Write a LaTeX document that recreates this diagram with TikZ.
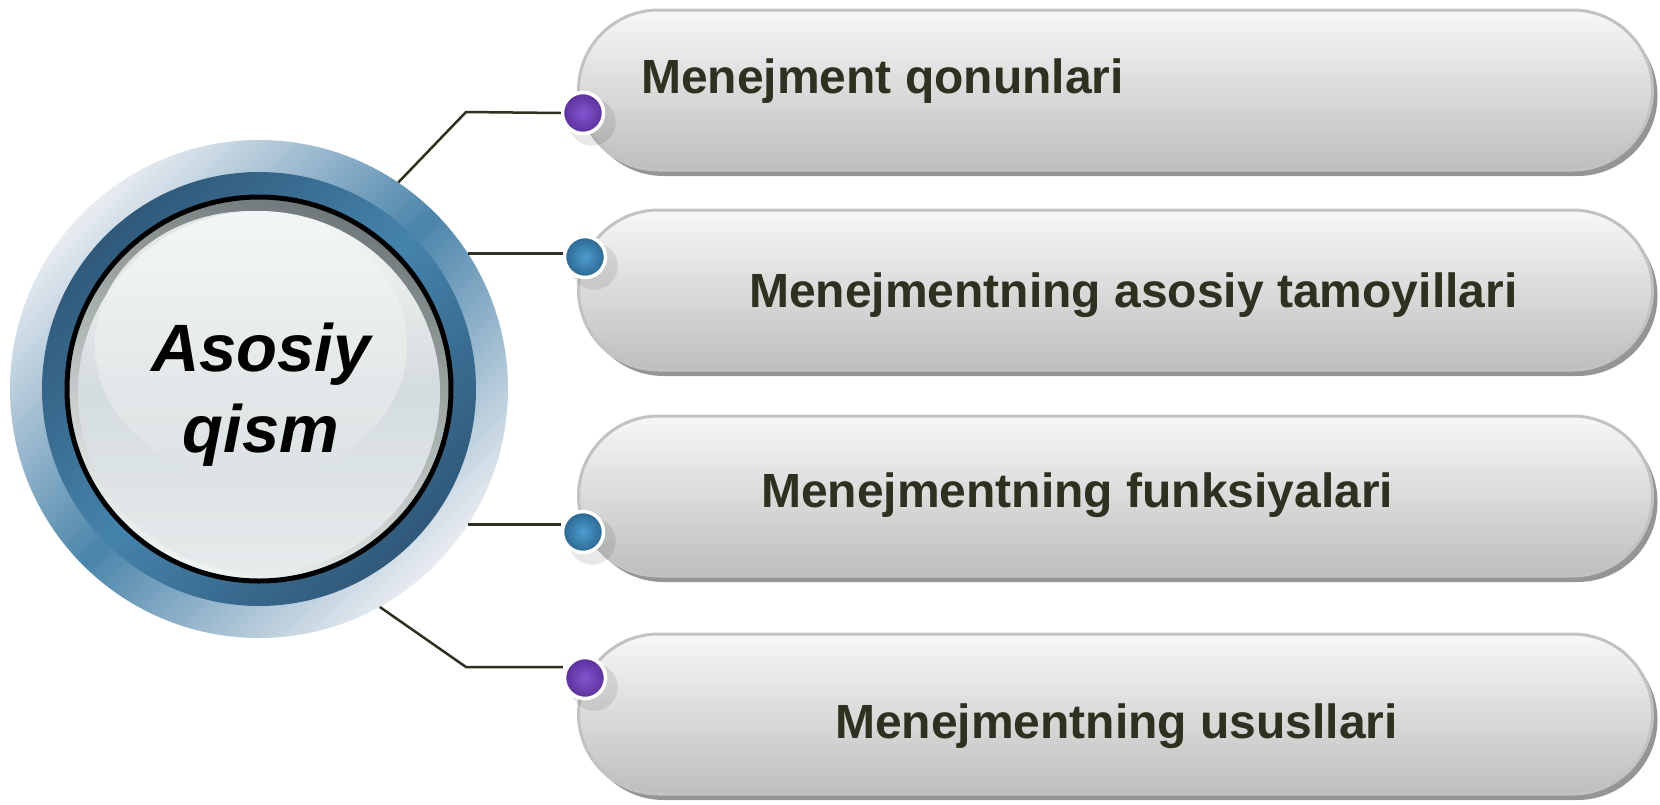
\documentclass[tikz,border=0pt]{standalone}
\usepackage{fontspec}
\setmainfont{Liberation Sans}
\usetikzlibrary{shadows}
\definecolor{txt}{HTML}{2F301F}
\definecolor{pilltop}{HTML}{F7F7F7}
\definecolor{pillbot}{HTML}{BEBEBE}
\definecolor{pillline}{HTML}{C2C2C2}
\definecolor{pillshadow}{HTML}{959595}
\definecolor{ringpale}{HTML}{E8ECF1}
\definecolor{ringblue}{HTML}{4A84AA}
\definecolor{darkend}{HTML}{30597A}
\definecolor{darkmid}{HTML}{4583AC}
\definecolor{rimtop}{HTML}{6F7878}
\definecolor{rimbot}{HTML}{EEF3F3}
\definecolor{facetop}{HTML}{F3F6F6}
\definecolor{facemid}{HTML}{D5DCDD}
\definecolor{facebot}{HTML}{E6ECEC}
\definecolor{hltop}{HTML}{F4F7F7}
\definecolor{hlbot}{HTML}{DDE3E4}
\definecolor{purpin}{HTML}{8555D0}
\definecolor{purpout}{HTML}{5A2F99}
\definecolor{bluein}{HTML}{4C9DCE}
\definecolor{blueout}{HTML}{2B6690}
\begin{document}
\begin{tikzpicture}[x=1pt,y=1pt,
  pill/.style={rounded corners=80pt, minimum width=1074pt, minimum height=160pt,
    inner sep=0pt, draw=pillline, line width=3pt, top color=pilltop, bottom color=pillbot,
    drop shadow={shadow xshift=5pt, shadow yshift=-6pt, fill=pillshadow, opacity=1}},
  dotbase/.style={circle, minimum size=41pt, inner sep=0pt, draw=white, line width=3.5pt,
    drop shadow={shadow xshift=8pt, shadow yshift=-8pt, shadow scale=1.15, fill=black, opacity=0.09}},
  purpledot/.style={dotbase, inner color=purpin, outer color=purpout},
  bluedot/.style={dotbase, inner color=bluein, outer color=blueout},
  conn/.style={draw=txt, line width=2.5pt},
  itemtext/.style={anchor=base west, inner sep=0pt, text=txt, font=\fontsize{48pt}{56pt}\selectfont\bfseries},
  hubtext/.style={align=center, text=black, font=\fontsize{67pt}{81pt}\selectfont\bfseries\itshape}
]
\useasboundingbox (0,0) rectangle (1660,-804);

% hub
\node[circle, minimum size=498pt, inner sep=0pt] (hub) at (259,-389) {};
\shade[top color=ringpale, bottom color=ringpale, middle color=ringblue, shading angle=45]
  (hub.center) circle[radius=249pt];
\shade[top color=darkend, bottom color=darkend, middle color=darkmid, shading angle=45]
  (hub.center) circle[radius=217pt];
\shade[top color=rimtop, bottom color=rimbot, shading angle=-20, draw=black, line width=5pt]
  (hub.center) circle[radius=192pt];
\shade[top color=facetop, bottom color=facebot, middle color=facemid]
  ([yshift=-3pt]hub.center) circle[radius=181pt];
\shade[top color=hltop, bottom color=hlbot, opacity=0.85]
  (251,-345) ellipse[x radius=156pt, y radius=134pt];
\node[hubtext] (ht) at (261,-395) {Asosiy\\qism};

% pills
\node[pill] (p1) at (1115.5,-90) {};
\node[pill] (p2) at (1115.5,-290) {};
\node[pill] (p3) at (1115.5,-496) {};
\node[pill] (p4) at (1115.5,-714) {};

% bends
\coordinate (b1) at (466,-112);
\coordinate (b4) at (466,-667);

% dots (named)
\node[purpledot] (d1) at (583,-113) {};
\node[bluedot] (d2) at (585,-257) {};
\node[bluedot] (d3) at (583,-532) {};
\node[purpledot] (d4) at (585,-678) {};

% connectors
\draw[conn] (hub.56) -- (b1) -- (d1.west);
\draw[conn] (hub.33) -- (hub.33 -| d2.west);
\draw[conn] (hub.-33) -- (hub.-33 -| d3.west);
\draw[conn] (hub.-61) -- (b4) -- (b4 -| d4.west);

% texts
\node[itemtext] (t1) at (641,-93) {Menejment qonunlari};
\node[itemtext] (t2) at (749,-307) {Menejmentning asosiy tamoyillari};
\node[itemtext] (t3) at (761,-507) {Menejmentning funksiyalari};
\node[itemtext] (t4) at (835,-738) {Menejmentning ususllari};
\end{tikzpicture}
\end{document}
